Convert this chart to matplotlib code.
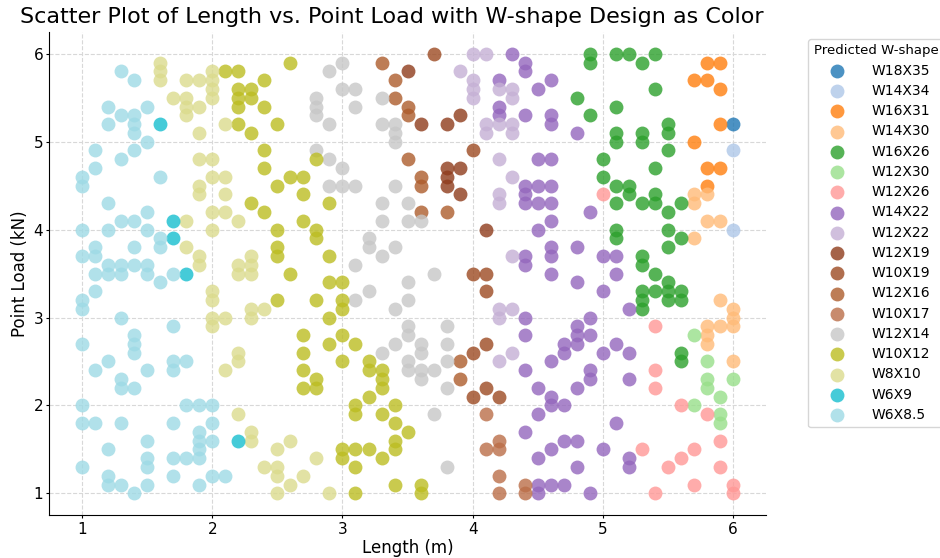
import matplotlib
matplotlib.use("Agg")
import matplotlib.pyplot as plt

# Length (m) and point load (kN) of each sample, grouped by the predicted W-shape
w18x35_len = [6.0]
w18x35_load = [5.2]

w14x34_len = [6.0, 6.0]
w14x34_load = [4.9, 4.0]

w16x31_len = [5.8, 5.9, 5.7, 5.8, 5.9, 5.9, 5.7, 5.8, 5.9, 5.8]
w16x31_load = [5.9, 5.9, 5.7, 5.7, 5.6, 5.2, 5.0, 4.7, 4.7, 4.5]

w14x30_len = [5.7, 5.8, 5.7, 5.8, 5.9, 5.7, 5.9, 6.0, 6.0, 5.8, 5.9, 6.0, 5.8, 5.8, 6.0]
w14x30_load = [4.4, 4.4, 4.3, 4.1, 4.1, 3.9, 3.2, 3.1, 3.0, 2.9, 2.9, 2.9, 2.8, 2.7, 2.5]

w16x26_len = [4.9, 4.9, 5.1, 5.2, 5.3, 5.4, 5.4, 4.8, 5.1, 4.9, 5.1, 5.1, 5.3, 5.3,
              5.5, 5.5, 5.5, 5.0, 5.0, 5.4, 5.1, 5.2, 5.2, 5.4, 5.1, 5.3, 5.4, 5.6,
              5.5, 5.1, 5.1, 5.5, 5.6, 5.5, 5.3, 5.3, 5.4, 5.5, 5.3, 5.3, 5.3, 5.4,
              5.5, 5.5, 5.6, 5.6, 5.6, 5.6]
w16x26_load = [6.0, 5.9, 6.0, 6.0, 5.9, 6.0, 5.6, 5.5, 5.4, 5.3, 5.1, 5.0, 5.1, 5.0,
               5.2, 5.1, 4.9, 4.8, 4.6, 4.7, 4.5, 4.5, 4.4, 4.4, 4.3, 4.3, 4.3, 4.3,
               4.2, 4.0, 3.9, 4.0, 3.9, 3.8, 3.7, 3.6, 3.5, 3.4, 3.3, 3.2, 3.1, 3.3,
               3.3, 3.2, 3.3, 3.2, 2.6, 2.5]

w12x30_len = [5.7, 5.8, 5.8, 5.8, 6.0, 5.7, 5.9, 5.9, 5.9]
w12x30_load = [2.8, 2.5, 2.3, 2.2, 2.3, 2.0, 2.1, 1.9, 1.8]

w12x26_len = [5.0, 5.4, 5.4, 5.4, 5.6, 5.8, 5.9, 5.3, 5.7, 5.6, 5.5, 5.9, 5.7, 5.4, 6.0, 6.0]
w12x26_load = [4.4, 2.9, 2.4, 2.2, 2.0, 1.9, 1.6, 1.5, 1.5, 1.4, 1.3, 1.3, 1.1, 1.0, 1.1, 1.0]

w14x22_len = [4.3, 4.4, 4.4, 4.2, 4.2, 4.2, 4.4, 4.4, 4.4, 4.6, 4.5, 4.6, 4.6, 4.8,
              4.5, 4.6, 4.5, 4.6, 4.4, 4.5, 4.6, 4.9, 4.6, 4.5, 4.6, 4.6, 4.8, 4.4,
              4.4, 5.0, 5.1, 4.6, 5.1, 4.8, 5.0, 5.2, 4.4, 4.4, 4.9, 4.8, 4.8, 4.9,
              4.7, 4.7, 4.8, 5.1, 5.0, 5.2, 4.4, 4.4, 4.6, 4.9, 4.9, 5.2, 4.5, 4.8,
              4.6, 4.6, 4.7, 4.5, 5.1, 4.7, 4.8, 4.6, 5.0, 4.5, 4.8, 5.2, 5.2, 4.5,
              4.6, 4.7, 4.5, 4.9]
w14x22_load = [6.0, 5.9, 5.8, 5.7, 5.4, 5.3, 5.3, 4.5, 4.4, 5.7, 5.6, 5.3, 5.2, 5.1,
               4.8, 4.8, 4.5, 4.5, 4.3, 4.3, 4.3, 4.2, 4.1, 4.0, 3.8, 3.7, 3.8, 3.7,
               3.6, 3.7, 3.7, 3.5, 3.5, 3.4, 3.3, 3.1, 3.0, 2.8, 3.0, 2.9, 2.8, 2.8,
               2.7, 2.6, 2.7, 2.7, 2.6, 2.6, 2.4, 1.7, 2.5, 2.4, 2.3, 2.3, 2.2, 2.2,
               2.1, 2.0, 2.0, 1.9, 1.8, 1.6, 1.6, 1.5, 1.5, 1.4, 1.3, 1.4, 1.3, 1.1,
               1.1, 1.1, 1.0, 1.0]

w12x22_len = [4.0, 4.1, 3.9, 4.0, 4.0, 4.0, 4.2, 4.3, 4.3, 4.1, 4.2, 4.3, 4.1, 4.3,
              4.2, 4.3, 4.2, 4.2, 4.3, 4.2, 4.3, 4.2, 4.3, 4.2]
w12x22_load = [6.0, 6.0, 5.8, 5.7, 5.6, 5.5, 5.6, 5.6, 5.5, 5.2, 5.2, 5.2, 5.1, 5.1,
               4.8, 4.6, 4.4, 4.3, 3.7, 3.1, 3.1, 3.0, 2.6, 2.5]

w12x19_len = [3.5, 3.6, 3.8, 3.9, 3.8, 3.8, 3.8, 3.9, 3.9, 4.1]
w12x19_load = [5.8, 5.2, 5.2, 5.3, 4.7, 4.6, 4.5, 4.7, 4.4, 4.0]

w10x19_len = [3.7, 4.0, 4.0, 4.1, 4.1, 4.1, 4.0, 4.1, 4.0, 4.2]
w10x19_load = [6.0, 4.9, 3.5, 3.5, 3.3, 2.7, 2.6, 2.2, 2.1, 2.1]

w12x16_len = [3.3, 3.4, 3.4, 3.5, 3.5, 3.5, 3.6, 3.6, 3.6, 3.8, 3.9, 3.9]
w12x16_load = [5.9, 5.7, 5.5, 5.4, 5.3, 4.8, 4.6, 4.5, 4.2, 4.2, 2.5, 2.3]

w10x17_len = [4.1, 4.2, 4.1, 4.2, 4.2, 4.2, 4.4, 4.4]
w10x17_load = [1.9, 1.6, 1.5, 1.5, 1.2, 1.0, 1.1, 1.0]

w12x14_len = [3.0, 2.9, 3.0, 3.1, 2.8, 2.8, 3.1, 2.8, 2.9, 3.3, 3.3, 3.4, 3.4, 3.4,
              2.8, 2.9, 3.0, 2.9, 3.0, 3.1, 3.4, 3.3, 3.5, 3.3, 3.5, 3.6, 3.2, 3.2,
              3.4, 3.3, 3.1, 3.7, 3.5, 3.2, 3.1, 3.5, 3.4, 3.5, 3.5, 3.8, 3.4, 3.6,
              3.6, 3.8, 3.3, 3.5, 3.5, 3.6, 3.6, 3.7, 3.8, 3.8, 3.7, 3.8]
w12x14_load = [5.9, 5.8, 5.6, 5.6, 5.5, 5.4, 5.4, 5.3, 5.2, 5.5, 5.2, 5.2, 5.1, 5.0,
               4.9, 4.8, 4.7, 4.5, 4.5, 4.5, 4.5, 4.3, 4.3, 4.1, 4.1, 4.1, 3.9, 3.8,
               3.8, 3.7, 3.6, 3.5, 3.4, 3.3, 3.2, 3.2, 3.1, 2.9, 2.8, 2.9, 2.7, 2.7,
               2.6, 2.7, 2.6, 2.5, 2.4, 2.4, 2.3, 2.4, 2.5, 2.2, 1.9, 1.3]

w10x12_len = [2.1, 2.2, 2.6, 2.4, 2.2, 2.3, 2.2, 2.3, 2.2, 2.4, 2.2, 2.3, 2.5, 2.4,
              2.4, 2.6, 2.5, 2.3, 2.8, 2.7, 2.7, 2.9, 2.4, 2.5, 2.5, 2.5, 2.6, 2.5,
              2.7, 2.8, 2.8, 2.9, 2.9, 3.0, 2.8, 3.0, 3.0, 2.9, 2.7, 2.9, 3.0, 3.1,
              2.7, 2.7, 2.8, 2.8, 2.7, 3.0, 3.2, 3.2, 3.3, 3.3, 3.3, 3.2, 3.1, 3.1,
              3.3, 3.4, 3.4, 3.5, 3.4, 3.4, 3.0, 3.0, 3.1, 3.2, 3.3, 3.1, 3.1, 3.4,
              3.6, 3.6]
w10x12_load = [5.8, 5.8, 5.9, 5.7, 5.6, 5.6, 5.5, 5.5, 5.4, 5.4, 5.2, 5.1, 5.2, 4.9,
               4.7, 4.6, 4.5, 4.3, 4.8, 4.6, 4.4, 4.3, 4.2, 4.0, 3.8, 3.7, 3.5, 3.2,
               4.1, 4.0, 3.9, 3.7, 3.4, 3.4, 3.2, 3.2, 3.1, 3.0, 2.8, 2.7, 2.8, 2.7,
               2.6, 2.4, 2.3, 2.2, 2.2, 2.5, 2.5, 2.4, 2.4, 2.3, 2.2, 2.1, 2.0, 1.9,
               1.9, 2.0, 1.8, 1.7, 1.6, 1.5, 1.5, 1.4, 1.5, 1.5, 1.4, 1.3, 1.0, 1.1,
               1.1, 1.0]

w8x10_len = [1.6, 1.6, 1.6, 1.7, 1.8, 1.9, 1.8, 1.8, 1.9, 1.8, 2.0, 2.0, 2.0, 2.0,
             2.1, 1.9, 1.9, 2.0, 2.0, 2.1, 1.9, 1.9, 2.1, 2.1, 2.0, 1.8, 2.0, 2.2,
             1.8, 1.9, 1.9, 2.2, 2.2, 2.3, 2.3, 2.3, 2.0, 2.0, 2.0, 2.0, 2.1, 2.3,
             2.3, 2.4, 2.2, 2.2, 2.1, 2.2, 2.3, 2.3, 2.6, 2.5, 2.4, 2.5, 2.5, 2.6,
             2.5, 2.8, 2.7, 2.9]
w8x10_load = [5.9, 5.8, 5.7, 5.5, 5.7, 5.7, 5.5, 5.4, 5.4, 5.3, 5.8, 5.7, 5.6, 5.5,
              5.2, 5.1, 4.8, 4.8, 4.6, 4.6, 4.5, 4.4, 4.4, 4.2, 4.2, 4.1, 4.0, 4.1,
              3.8, 3.7, 3.6, 3.6, 3.5, 3.7, 3.6, 3.5, 3.3, 3.2, 3.0, 2.9, 3.0, 3.1,
              3.0, 3.1, 2.6, 2.5, 2.4, 1.9, 1.7, 1.6, 1.6, 1.5, 1.3, 1.3, 1.2, 1.1,
              1.0, 1.4, 1.2, 1.0]

w6x9_len = [1.6, 1.7, 1.7, 1.8, 2.2]
w6x9_load = [5.2, 4.1, 3.9, 3.5, 1.6]

w6x8_5_len = [1.3, 1.4, 1.2, 1.5, 1.3, 1.4, 1.2, 1.4, 1.4, 1.5, 1.4, 1.1, 1.3, 1.1,
              1.0, 1.0, 1.6, 1.2, 1.5, 1.3, 1.4, 1.0, 1.2, 1.5, 1.6, 1.6, 1.4, 1.1,
              1.0, 1.1, 1.2, 1.3, 1.4, 1.5, 1.1, 1.2, 1.3, 1.5, 1.7, 1.6, 1.1, 1.0,
              1.0, 1.3, 1.7, 1.4, 1.4, 1.4, 1.0, 1.2, 1.1, 1.3, 1.3, 1.4, 1.5, 1.7,
              1.7, 1.8, 1.0, 1.8, 1.9, 2.0, 1.0, 1.1, 1.3, 1.7, 2.0, 1.9, 1.9, 1.9,
              1.9, 2.0, 1.5, 1.2, 1.5, 1.5, 1.7, 1.8, 1.0, 1.2, 1.2, 1.3, 1.4, 1.5,
              1.7, 1.9, 2.0, 2.1]
w6x8_5_load = [5.8, 5.7, 5.4, 5.4, 5.3, 5.3, 5.2, 5.2, 5.1, 5.0, 4.9, 4.9, 4.8, 4.7,
               4.6, 4.5, 4.6, 4.3, 4.2, 4.1, 4.1, 4.0, 4.0, 4.0, 3.9, 3.8, 3.8, 3.8,
               3.7, 3.7, 3.6, 3.6, 3.6, 3.6, 3.5, 3.5, 3.5, 3.5, 3.5, 3.4, 3.3, 3.2,
               3.1, 3.0, 2.9, 2.8, 2.7, 2.6, 2.7, 2.5, 2.4, 2.3, 2.2, 2.2, 2.4, 2.5,
               2.4, 2.5, 2.0, 2.0, 2.0, 2.0, 1.8, 1.8, 1.8, 1.8, 1.8, 1.7, 1.6, 1.5,
               1.4, 1.6, 1.6, 1.5, 1.4, 1.3, 1.4, 1.4, 1.3, 1.2, 1.1, 1.1, 1.0, 1.1,
               1.2, 1.1, 1.2, 1.2]

shape_names = ["W18X35", "W14X34", "W16X31", "W14X30", "W16X26", "W12X30",
               "W12X26", "W14X22", "W12X22", "W12X19", "W10X19", "W12X16",
               "W10X17", "W12X14", "W10X12", "W8X10", "W6X9", "W6X8.5"]
shape_colors = ["#1f77b4", "#aec7e8", "#ff7f0e", "#ffbb78", "#2ca02c", "#98df8a",
                "#ff9896", "#9467bd", "#c5b0d5", "#8f3c1c", "#9c4a22", "#ad5c2c",
                "#bb6e48", "#c7c7c7", "#bcbd22", "#dbdb8d", "#17becf", "#9edae5"]
lengths = [w18x35_len, w14x34_len, w16x31_len, w14x30_len, w16x26_len, w12x30_len,
           w12x26_len, w14x22_len, w12x22_len, w12x19_len, w10x19_len, w12x16_len,
           w10x17_len, w12x14_len, w10x12_len, w8x10_len, w6x9_len, w6x8_5_len]
loads = [w18x35_load, w14x34_load, w16x31_load, w14x30_load, w16x26_load, w12x30_load,
         w12x26_load, w14x22_load, w12x22_load, w12x19_load, w10x19_load, w12x16_load,
         w10x17_load, w12x14_load, w10x12_load, w8x10_load, w6x9_load, w6x8_5_load]

fig = plt.figure(figsize=(9.4, 5.58), dpi=100)
ax = fig.add_axes([0.0526, 0.0765, 0.762, 0.8665])

for name, color, xs, ys in zip(shape_names, shape_colors, lengths, loads):
    ax.scatter(xs, ys, s=100, color=color, alpha=0.8, linewidths=0, label=name)

ax.set_xlim(0.75, 6.25)
ax.set_ylim(0.75, 6.25)
ax.set_xticks([1, 2, 3, 4, 5, 6])
ax.set_yticks([1, 2, 3, 4, 5, 6])
ax.tick_params(labelsize=11, length=2.5, pad=2)

ax.set_title("Scatter Plot of Length vs. Point Load with W-shape Design as Color",
             fontsize=16, x=0.478)
ax.set_xlabel("Length (m)", fontsize=12, labelpad=2)
ax.set_ylabel("Point Load (kN)", fontsize=12, labelpad=3)

ax.grid(True, linestyle="--", color="#d8d8d8", linewidth=0.8)
ax.set_axisbelow(True)
ax.spines["top"].set_visible(False)
ax.spines["right"].set_visible(False)

ax.legend(title="Predicted W-shape", bbox_to_anchor=(1.05, 1), loc="upper left",
          fontsize=10, title_fontsize=9.5, handletextpad=1.5, labelspacing=0.45)

fig.savefig("out.png", dpi=100)
